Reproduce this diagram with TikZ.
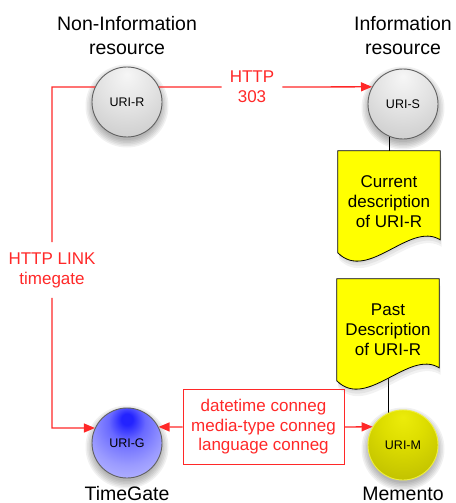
\documentclass[tikz,border=0pt]{standalone}
\usepackage{fontspec}
\setmainfont{Liberation Sans}
\usetikzlibrary{arrows.meta,shadows,calc}
\pgfdeclarelayer{bg}
\pgfdeclarelayer{mid}
\pgfsetlayers{bg,mid,main}
\definecolor{lred}{RGB}{255,40,40}
\definecolor{docyellow}{RGB}{255,255,0}
\definecolor{gA}{RGB}{246,246,246}
\definecolor{gB}{RGB}{226,226,226}
\definecolor{gC}{RGB}{202,202,202}
\definecolor{gD}{RGB}{172,172,172}
\definecolor{bA}{RGB}{35,35,255}
\definecolor{bB}{RGB}{105,105,255}
\definecolor{bC}{RGB}{155,155,255}
\definecolor{bD}{RGB}{188,188,255}
\definecolor{bE}{RGB}{212,212,255}
\definecolor{yA}{RGB}{236,236,10}
\definecolor{yB}{RGB}{222,222,0}
\definecolor{yC}{RGB}{195,195,0}
\definecolor{yD}{RGB}{150,150,0}
\definecolor{mborder}{RGB}{240,240,60}
\pgfdeclareradialshading{grayball}{\pgfpoint{0bp}{20bp}}{color(0bp)=(gA); color(20bp)=(gB); color(40bp)=(gC); color(55bp)=(gD); color(75bp)=(gD)}
\pgfdeclareradialshading{blueball}{\pgfpoint{0bp}{18bp}}{color(0bp)=(bA); color(4bp)=(bA); color(13bp)=(bB); color(27bp)=(bC); color(40bp)=(bD); color(54bp)=(bE); color(70bp)=(bE)}
\pgfdeclareradialshading{yellowball}{\pgfpoint{0bp}{20bp}}{color(0bp)=(yA); color(15bp)=(yB); color(35bp)=(yC); color(55bp)=(yD); color(75bp)=(yD)}
\tikzset{
  uri/.style={circle, minimum size=70pt, inner sep=0pt, line width=0.9pt,
    draw=black!62, font=\fontsize{12.5}{14}\selectfont},
  grayuri/.style={uri, shading=grayball},
  blueuri/.style={uri, shading=blueball},
  yellowuri/.style={uri, shading=yellowball, draw=mborder},
  title/.style={align=center, inner sep=0pt, font=\fontsize{19.5}{24}\selectfont},
  redlabel/.style={align=center, text=lred, font=\fontsize{17}{20}\selectfont},
  doctext/.style={align=center, minimum width=102pt, minimum height=102pt,
    inner sep=0pt, font=\fontsize{17}{20}\selectfont},
  docsty/.style={draw=black, line width=0.8pt, fill=docyellow,
    drop shadow={opacity=0.12, shadow xshift=0.5pt, shadow yshift=-2pt},
    drop shadow={opacity=0.12, shadow xshift=1pt, shadow yshift=-4.5pt},
    drop shadow={opacity=0.1, shadow xshift=1.5pt, shadow yshift=-7pt}},
  rline/.style={draw=lred, line width=1.3pt},
  rarrow/.style={rline, -{Triangle[length=11pt,width=9pt]}},
  conn/.style={draw=black, line width=0.9pt},
  ballshadow/.style={fill=black, opacity=0.055}
}
\newcommand\docshape[1]{%
  \path[docsty] (#1.north west) -- (#1.north east) -- ($(#1.north east)+(0,89)$)
    .. controls ($(#1.north west)+(72,70)$) and ($(#1.north west)+(30,132)$) ..
    ($(#1.north west)+(0,102)$) -- cycle;}
\newcommand\softshadow[1]{%
  \foreach \rr in {34,35.5,37,38.5,40,41.5}{\path[ballshadow] ($(#1.center)+(0,4)$) circle (\rr);}}
\begin{document}
\begin{tikzpicture}[x=1pt,y=-1pt]
\useasboundingbox (0,0) rectangle (455,503);

% titles
\node[title, anchor=north] (tR) at (127,16) {Non-Information\\resource};
\node[title, anchor=north] (tS) at (403,16) {Information\\resource};
\node[title, anchor=base] (tG) at (127,500) {TimeGate};
\node[title, anchor=base] (tM) at (403,500) {Memento};

% resource nodes
\node[grayuri] (uriR) at (127,102) {URI-R};
\node[grayuri] (uriS) at (403,104) {URI-S};
\node[blueuri] (uriG) at (127,443) {URI-G};
\node[yellowuri] (uriM) at (403,445) {URI-M};

% shadows of balls
\begin{pgfonlayer}{bg}
  \softshadow{uriR}
  \softshadow{uriS}
  \softshadow{uriG}
  \softshadow{uriM}
\end{pgfonlayer}

% documents
\node[doctext] (cur) at (389,202) {Current\\description\\of URI-R};
\node[doctext] (past) at (388,330) {Past\\Description\\of URI-R};
\begin{pgfonlayer}{mid}
  \docshape{cur}
  \docshape{past}
\end{pgfonlayer}
\begin{pgfonlayer}{bg}
  \draw[conn] (cur.center) -- (cur.center |- uriS.center);
  \draw[conn] (past.center) -- (past.center |- uriM.center);
\end{pgfonlayer}

% labels
\node[redlabel, inner xsep=8pt] (h303) at (252,87) {HTTP\\303};
\node[redlabel, inner ysep=10pt] (hlink) at (52,270) {HTTP LINK\\timegate};
\node[redlabel, draw=lred, line width=1pt, minimum width=161pt, minimum height=75pt,
  font=\fontsize{17}{19.5}\selectfont] (cbox) at (263.5,427)
  {datetime conneg\\media-type conneg\\language conneg};

\coordinate (lt) at (52,87);
\coordinate (lb) at (52,428);

% red connectors
\draw[rline] (uriR.25) -- (h303.west);
\draw[rarrow] (h303.east) -- (uriS.151);
\draw[rline] (uriR.155) -- (lt) -- (hlink);
\draw[rarrow] (hlink) -- (lb) -- (uriG.155);
\draw[rarrow] (cbox.west) -- (uriG.27);
\draw[rarrow] (cbox.east) -- (uriM.149);
\end{tikzpicture}
\end{document}
